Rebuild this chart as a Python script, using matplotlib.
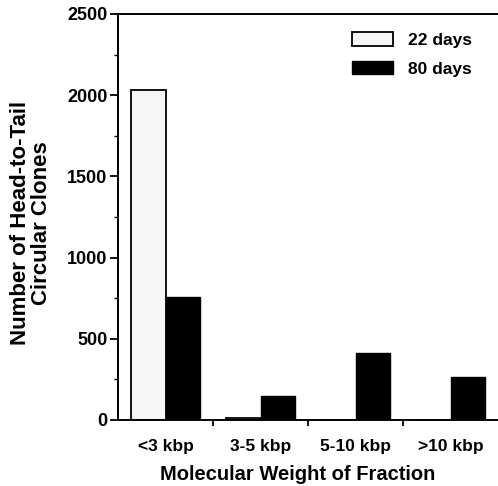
import matplotlib
matplotlib.use("Agg")
import matplotlib.pyplot as plt
import numpy as np
from matplotlib.ticker import MultipleLocator, FixedLocator

plt.rcParams['font.family'] = ['Liberation Sans', 'DejaVu Sans']
plt.rcParams['font.weight'] = 'bold'

categories = ['<3 kbp', '3-5 kbp', '5-10 kbp', '>10 kbp']
days22 = [2030, 12, 3, 0]
days80 = [755, 150, 410, 265]
series_labels = ['22 days', '80 days']

W, H = 498, 486
fig = plt.figure(figsize=(W/100, H/100), dpi=100)
ax = fig.add_axes([118/W, 1-420/H, 1-118/W, (420-14)/H])

x = np.arange(len(categories))
w = 0.36
ax.bar(x - w/2, days22, w, color='#f6f6f6', edgecolor='black', linewidth=1.3,
       label=series_labels[0])
ax.bar(x + w/2, days80, w, color='black', edgecolor='black', linewidth=1.0,
       label=series_labels[1])

ax.set_xlim(-0.5, 3.5)
ax.set_ylim(0, 2500)
ax.yaxis.set_major_locator(MultipleLocator(500))
ax.yaxis.set_minor_locator(MultipleLocator(250))
ax.xaxis.set_major_locator(FixedLocator(x))
ax.xaxis.set_minor_locator(FixedLocator([0.5, 1.5, 2.5]))
ax.set_xticklabels(categories, fontsize=12.5, fontweight='bold')
ax.tick_params(axis='x', which='major', length=0, pad=14)
ax.tick_params(axis='x', which='minor', length=4, width=1.3, direction='out')
ax.tick_params(axis='y', which='major', length=6, width=1.3, labelsize=13, pad=1.5)
ax.tick_params(axis='y', which='minor', length=3, width=1.0)
for lab in ax.get_yticklabels():
    lab.set_fontweight('bold')

ax.spines['right'].set_visible(False)
for s in ['left', 'bottom', 'top']:
    ax.spines[s].set_linewidth(1.4)

fig.text(298/W, 1-474/H, 'Molecular Weight of Fraction', fontsize=14.5,
         fontweight='bold', ha='center', va='center')
fig.text(31/W, 1-223/H, 'Number of Head-to-Tail\nCircular Clones', fontsize=16,
         fontweight='bold', ha='center', va='center', rotation=90,
         linespacing=0.95, multialignment='center')

leg = ax.legend(loc='upper right', bbox_to_anchor=(0.974, 0.995), frameon=False,
                fontsize=12.5, handlelength=2.35, handleheight=0.85, handletextpad=0.92,
                labelspacing=0.75)
for t in leg.get_texts():
    t.set_fontweight('bold')

fig.savefig('out.png', dpi=100)
